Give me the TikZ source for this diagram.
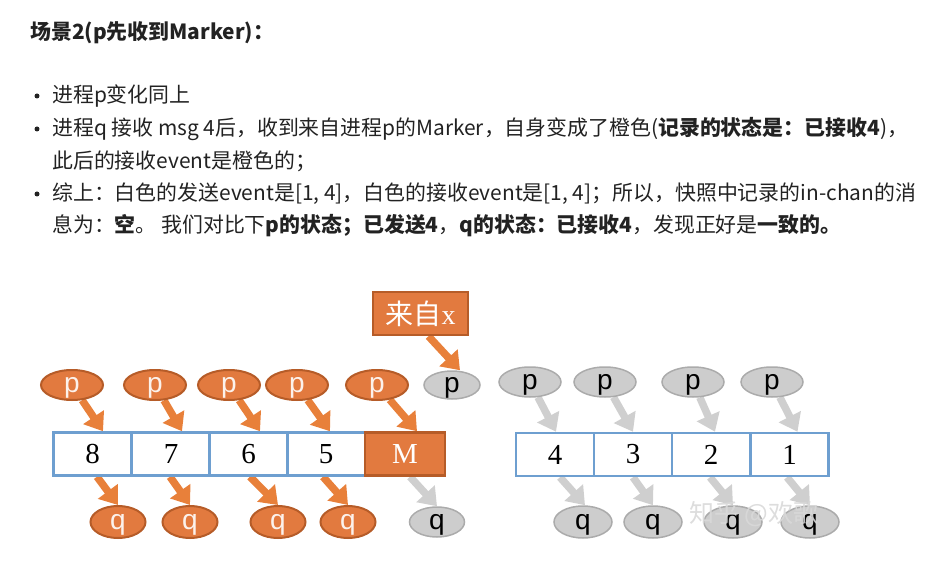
\documentclass[tikz,border=0pt]{standalone}
\usepackage{fontspec}
\setmainfont{Liberation Serif}
\setsansfont{Liberation Sans}
\newfontfamily\cjk{Noto Sans CJK SC}
\usetikzlibrary{arrows.meta}
\usetikzlibrary{shapes.geometric}
\usetikzlibrary{backgrounds}

\definecolor{orfill}{HTML}{E27A3F}
\definecolor{ordraw}{HTML}{B65C28}
\definecolor{orarrow}{HTML}{E8803A}
\definecolor{grfill}{HTML}{CDCDCD}
\definecolor{grdraw}{HTML}{ABABAB}
\definecolor{grarrow}{HTML}{CFCFCF}
\definecolor{cellblue}{HTML}{6E9FD0}
\definecolor{txt}{HTML}{222222}

\begin{document}
\begin{tikzpicture}[x=1pt,y=-1pt,
    line/.style={anchor=west,inner sep=0pt,text=txt,font=\cjk\fontsize{20.9}{24}\selectfont},
    dot/.style={circle,fill=txt,inner sep=0pt,minimum size=5pt},
    cell/.style={draw=cellblue,line width=2.5pt,minimum width=78pt,minimum height=43pt,
                 inner sep=0pt,font=\fontsize{29}{29}\selectfont},
    evor/.style={ellipse,draw=ordraw,fill=orfill,line width=2pt,inner sep=0pt,
                 text height=14pt,text depth=0pt,
                 text=white!90!orfill,font=\sffamily\fontsize{28}{28}\selectfont},
    evgr/.style={ellipse,draw=grdraw,fill=grfill,line width=1.5pt,inner sep=0pt,
                 text height=14pt,text depth=0pt,
                 text=black,font=\sffamily\fontsize{28}{28}\selectfont},
    pev/.style={minimum width=62pt,minimum height=30pt},
    qev/.style={minimum width=55pt,minimum height=32pt},
    flowor/.style={draw=orarrow,line width=7.5pt,-{Triangle[width=24pt,length=17pt]}},
    flowgr/.style={draw=grarrow,line width=7.5pt,-{Triangle[width=24pt,length=17pt]}}]
 	\useasboundingbox (0,0) rectangle (930,583);
 %% text part
 	\node[line] (title) at (30,33) {\bfseries 场景2(p先收到Marker)：};
 	\node[dot] (b1) at (37,96) {};
 	\node[line] (l1) at (52,96) {进程p变化同上};
 	\node[dot] (b2) at (37,129) {};
 	\node[line] (l2) at (52,129)
 		{进程q 接收 msg 4后，收到来自进程p的Marker，自身变成了橙色({\bfseries 记录的状态是：已接收4})，};
 	\node[line] (l3) at (52,161) {此后的接收event是橙色的；};
 	\node[dot] (b3) at (37,194) {};
 	\node[line] (l4) at (52,194)
 		{综上：白色的发送event是[1, 4]，白色的接收event是[1, 4]；所以，快照中记录的in-chan的消};
 	\node[line] (l5) at (52,226)
 		{息为：{\bfseries 空}。 我们对比下{\bfseries p的状态；已发送4}，{\bfseries q的状态：已接收4}，发现正好是{\bfseries 一致的。}};
 %% channel cells
 	\node[cell] (c8) at (92.5,454) {8};
 	\node[cell] (c7) at (171,454) {7};
 	\node[cell] (c6) at (248.5,454) {6};
 	\node[cell] (c5) at (326,454) {5};
 	\node[cell,draw=ordraw,fill=orfill,text=white,minimum width=80pt] (mk) at (405,454) {M};
 	\node[cell] (c4) at (555,454.5) {4};
 	\node[cell] (c3) at (633,454.5) {3};
 	\node[cell] (c2) at (711,454.5) {2};
 	\node[cell] (c1) at (789.5,454.5) {1};
 %% marker source
 	\node[draw=ordraw,fill=orfill,line width=2.5pt,minimum width=95pt,minimum height=43pt,
 		text=white,font=\fontsize{28}{28}\selectfont] (src) at (420.5,313.5) {{\cjk 来自}x};
 %% send events
 	\node[evor,pev] (p8) at (72,385) {p};
 	\node[evor,pev] (p7) at (155,385) {p};
 	\node[evor,pev] (p6) at (229,385) {p};
 	\node[evor,pev] (p5) at (297,385) {p};
 	\node[evor,pev] (pm) at (377,385) {p};
 	\node[evgr,pev,minimum width=56pt,minimum height=28pt] (px) at (452,385) {p};
 	\node[evgr,pev] (p4) at (530,382) {p};
 	\node[evgr,pev] (p3) at (605,382) {p};
 	\node[evgr,pev] (p2) at (693,382) {p};
 	\node[evgr,pev] (p1) at (772,382) {p};
 %% receive events
 	\node[evor,qev] (q8) at (118,522) {q};
 	\node[evor,qev] (q7) at (190,522) {q};
 	\node[evor,qev] (q6) at (278,522) {q};
 	\node[evor,qev] (q5) at (348,522) {q};
 	\node[evgr,qev,minimum height=30pt] (qm) at (437,522) {q};
 	\node[evgr,qev,minimum width=58pt] (q4) at (583,522) {q};
 	\node[evgr,qev,minimum width=58pt] (q3) at (653,522) {q};
 	\node[evgr,qev,minimum width=58pt] (q2) at (733,522) {q};
 	\node[evgr,qev,minimum width=58pt] (q1) at (810,522) {q};
 %% arrows
 	\begin{scope}[on background layer]
 		\draw[flowor] (p8) -- ([xshift=10.5pt]c8.north);
 		\draw[flowor] (p7) -- ([xshift=11pt]c7.north);
 		\draw[flowor] (p6) -- ([xshift=11.5pt]c6.north);
 		\draw[flowor] (p5) -- ([xshift=4pt]c5.north);
 		\draw[flowor] (pm) -- ([xshift=12pt]mk.north);
 		\draw[flowor] ([xshift=8pt]src.south) -- ([xshift=8pt]px.north);
 		\draw[flowgr] (p4) -- ([xshift=1pt]c4.north);
 		\draw[flowgr] (p3) -- (c3.north);
 		\draw[flowgr] (p2) -- ([xshift=4pt]c2.north);
 		\draw[flowgr] (p1) -- ([xshift=8pt]c1.north);
 		\draw[flowor] ([xshift=4.5pt]c8.south) -- (q8.north);
 		\draw[flowor] ([xshift=-1pt]c7.south) -- (q7.north);
 		\draw[flowor] ([xshift=1.5pt]c6.south) -- (q6.north);
 		\draw[flowor] ([xshift=-3pt]c5.south) -- (q5.north);
 		\draw[flowgr] ([xshift=5pt]mk.south) -- (qm.north);
 		\draw[flowgr] ([xshift=5pt]c4.south) -- ([xshift=2pt]q4.north);
 		\draw[flowgr] (c3.south) -- (q3.north);
 		\draw[flowgr] ([xshift=-1pt]c2.south) -- (q2.north);
 		\draw[flowgr] ([xshift=-2.5pt]c1.south) -- (q1.north);
 	\end{scope}
 %% watermark
 	\node[text=gray!30,opacity=0.9,font=\cjk\fontsize{25}{25}\selectfont] (wm) at (754,514) {知乎 @欢歌};
\end{tikzpicture}
\end{document}
